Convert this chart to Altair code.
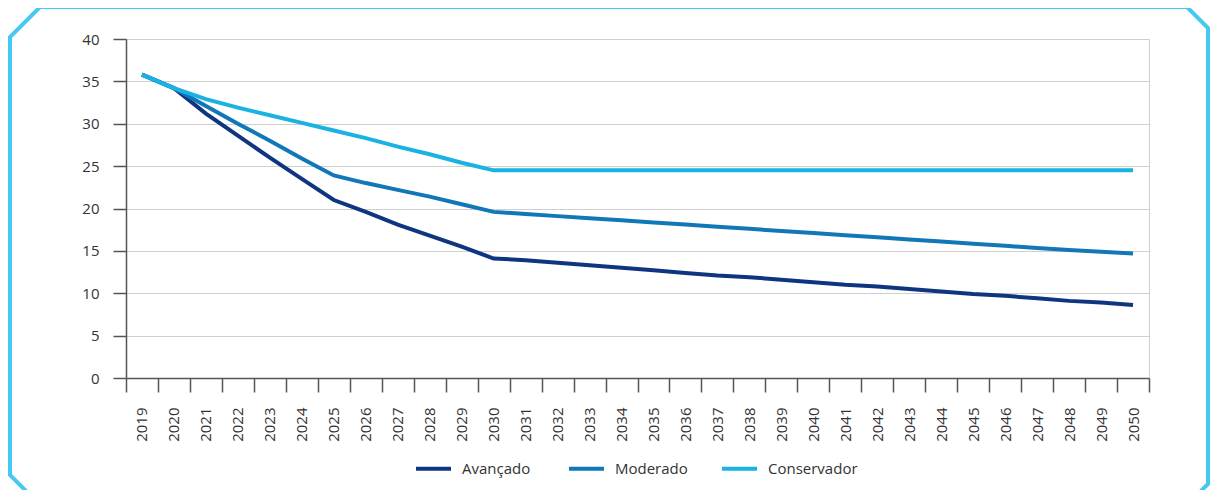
import altair as alt
import pandas as pd

years = list(range(2019, 2051))
series_names = ["Avançado", "Moderado", "Conservador"]
series_colors = ["#0f3580", "#1077b8", "#19b2e3"]

avancado = [35.8, 34.2, 31.2, 28.6, 26.0, 23.5, 21.0, 19.6, 18.1, 16.8, 15.5, 14.1,
            13.9, 13.6, 13.3, 13.0, 12.7, 12.4, 12.1, 11.9, 11.6, 11.3, 11.0, 10.8,
            10.5, 10.2, 9.9, 9.7, 9.4, 9.1, 8.9, 8.6]
moderado = [35.8, 34.2, 32.1, 30.0, 28.0, 25.9, 23.9, 23.0, 22.2, 21.4, 20.5, 19.6,
            19.35, 19.1, 18.85, 18.6, 18.35, 18.1, 17.85, 17.6, 17.35, 17.1, 16.85, 16.6,
            16.35, 16.1, 15.85, 15.6, 15.35, 15.1, 14.9, 14.7]
conservador = [35.8, 34.2, 32.9, 31.9, 31.0, 30.1, 29.2, 28.3, 27.3, 26.4, 25.4, 24.5,
               24.5, 24.5, 24.5, 24.5, 24.5, 24.5, 24.5, 24.5, 24.5, 24.5, 24.5, 24.5,
               24.5, 24.5, 24.5, 24.5, 24.5, 24.5, 24.5, 24.5]
y_ticks = [0, 5, 10, 15, 20, 25, 30, 35, 40]

rows = []
for name, vals in zip(series_names, [avancado, moderado, conservador]):
    for yr, v in zip(years, vals):
        rows.append({"ano": str(yr), "serie": name, "valor": v})
df = pd.DataFrame(rows)

# decorative octagonal frame (pixel coordinates relative to plot origin)
frame_x = [-86, 1061, 1082, 1082, 1061, -86, -116, -116, -86]
frame_y = [-32, -32, -11, 445, 466, 466, 436, -2, -32]
frame_df = pd.DataFrame({"fx": frame_x, "fy": frame_y, "i": list(range(len(frame_x)))})

FONT = "Open Sans"

x_enc = alt.X(
    "ano:O",
    scale=alt.Scale(type="band", paddingInner=0, paddingOuter=0),
    axis=alt.Axis(
        title=None, labelAngle=-90, tickBand="extent", tickSize=14, tickColor="#555555",
        tickWidth=1.5, domainColor="#555555", domainWidth=1.5, labelPadding=15,
        labelFontSize=15, labelFont=FONT, labelColor="#333333", grid=False,
    ),
)
y_enc = alt.Y(
    "valor:Q",
    scale=alt.Scale(domain=[0, 40], nice=False),
    axis=alt.Axis(
        title=None, values=y_ticks, tickSize=13, tickColor="#555555", tickWidth=1.5,
        domainColor="#555555", domainWidth=1.5, labelPadding=14, labelFontSize=15,
        labelFont=FONT, labelColor="#333333", grid=True, gridColor="#cfcfcf", gridWidth=1,
    ),
)
color_enc = alt.Color(
    "serie:N",
    scale=alt.Scale(domain=series_names, range=series_colors),
    legend=alt.Legend(
        title=None, orient="none", legendX=288, legendY=410, direction="horizontal",
        symbolType="stroke", symbolSize=1225, symbolStrokeWidth=4, labelFontSize=15,
        labelFont=FONT, labelColor="#333333", labelOffset=9, columnPadding=9, padding=0,
        gridAlign="all",
    ),
)

line_layers = []
for name in series_names:
    line_layers.append(
        alt.Chart(df)
        .transform_filter(alt.datum.serie == name)
        .mark_line(strokeWidth=4)
        .encode(x=x_enc, y=y_enc, color=color_enc)
    )

frame = (
    alt.Chart(frame_df)
    .mark_line(stroke="#45c8f2", strokeWidth=4, strokeJoin="miter", clip=False)
    .encode(
        x=alt.X("fx:Q", scale=None, axis=None),
        y=alt.Y("fy:Q", scale=None, axis=None),
        order="i:Q",
    )
)

lines = alt.layer(*line_layers)

chart = (
    alt.layer(lines, frame)
    .resolve_scale(x="independent", y="independent")
    .properties(
        width=1023,
        height=339,
        padding={"left": 118, "top": 31, "right": 62, "bottom": 112},
        autosize=alt.AutoSizeParams(type="none"),
        background="white",
    )
    .configure_view(stroke="#cfcfcf", strokeWidth=1)
)

chart.save("out.html", embed_options={"renderer": "svg", "actions": False})
